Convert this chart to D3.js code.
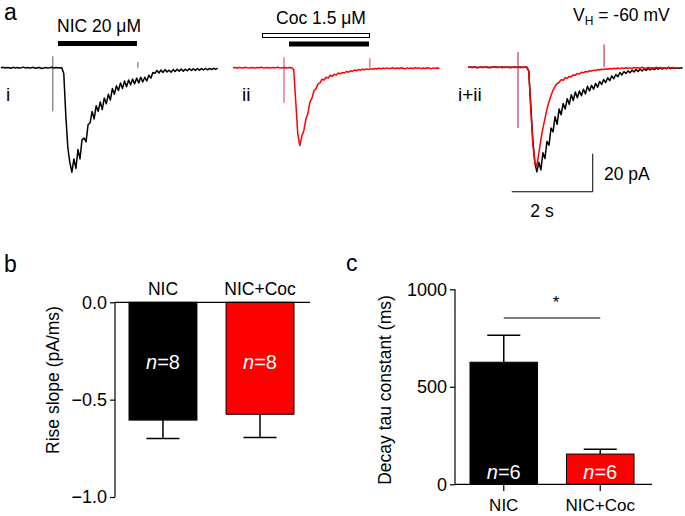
<!DOCTYPE html>
<html><head><meta charset="utf-8">
<script src="https://cdn.jsdelivr.net/npm/d3@7/dist/d3.min.js"></script>
<style>body{margin:0;background:#fff}svg{display:block;font-family:"Liberation Sans",Arial,sans-serif}</style>
</head><body><svg id="c" width="685" height="516"></svg>
<script>
// ---------- DATA ----------
const dt = 0.05; // s between samples
// trace i : NIC alone (pA)
const traceNIC = [0,0.2,-0.2,0.1,0,-0.3,0.2,-0.1,0.1,-0.2,0,0.3,-0.1,0.1,-0.2,0,0.2,-0.3,0,0.1,-0.4,-0.2,0.1,-0.1,0,0.2,-0.2,0.1,0,-0.1,0,
 -3,-25,-42,-50,
 -55,-48,-53,-43,-48,-38,-37,-39,-30,-29,-23,-27,-20,-23,-18,-22,-16,-19,-14,-17,-11,-14,-9.5,-12,-8,-11,-7,-10,-6.5,-9,-6,-8.5,-5.5,-8,-5,-7.5,-5,-7,-4,-5.5,-2.5,
 -3,-1.5,-2.8,-1.2,-2.5,-1,-2.2,-1.3,-2.4,-1,-2,-0.8,-1.8,-0.7,-1.9,-0.8,-1.6,-0.5,-1.5,-0.6,-1.4,-0.4,-1.3,-0.5,-1.2,-0.3,-1.1,-0.4,-1,-0.3,-0.9,-0.2];
// trace ii : NIC + cocaine (pA)
const traceCoc = [0,0.1,-0.2,0.1,0,-0.2,0.2,0,-0.1,0.1,0,-0.2,0.1,0,0.2,-0.1,0,0.1,-0.2,0,0.1,-0.1,0.2,0,-0.1,0.1,0,-0.2,0.1,0,
 -1,-18,-35,-41,-36,-33,-27,-24,-18,-16,-12,-11,-8.5,-8,-6,-6.5,-5,-5.5,-4,-4.5,-3.5,-3.8,-2.8,-3.2,-2.5,-2.8,-2,-2.4,-1.6,-2,
 -1.2,-1.6,-1,-1.3,-0.8,-1.1,-0.6,-1,-0.5,-0.8,-0.4,-0.7,-0.3,-0.6,-0.2,-0.5,-0.1,-0.4,-0.3,0,-0.5,-0.2,-0.4,0,-0.3,-0.6,-0.1,
 -0.4,-0.2,-0.5,0,-0.3,-0.1,-0.5,-0.2,-0.4,0,-0.3,-0.5,-0.1,-0.3,-0.2,-0.4];
// overlay i+ii
const overlayNIC = [0,0.1,-0.1,0.2,0,-0.2,0.1,0,-0.1,0.1,0,-0.2,0.1,0,0.1,-0.1,0,0.2,-0.1,0,0.1,-0.2,0,0.1,-0.1,0,0.1,-0.1,0,0.1,
 -2,-20,-38,-50,-55,
 -50,-54,-45,-48,-39,-41,-32,-34,-26,-30,
 -22,-25,-19,-22,-16.5,-19.5,-14.5,-17.5,-13,-16,
 -12.5,-15,-11.5,-14,-10,-12.5,-9.5,-11.5,-8.5,-10.5,
 -7.5,-9,-6.5,-8,-5.5,-7,-4.5,-6,-3.8,-5,
 -2.8,-4,-2.3,-3.3,-1.9,-2.9,-1.5,-2.5,-1.2,-2.2,
 -1,-1.9,-0.8,-1.6,-0.6,-1.4,-0.5,-1.2,-0.4,-1,
 -0.3,-0.9,-0.2,-0.8,-0.1,-0.7,-0.3,-0.6,-0.2,-0.5,
 -0.4,-0.3];
const overlayCoc = [0,0.2,-0.1,0.1,-0.2,0,0.2,-0.1,0.1,0,-0.2,0.1,0,0.2,-0.1,0,0.1,-0.2,0.1,0,-0.1,0.2,0,-0.1,0.1,0,-0.2,0.1,0,0.1,
 -2,-22,-40,-50,-52,-45,-38,-32,-27,-22,-18,-15,-12,-10,-8.5,-8,-6.5,-6.8,-5.5,-5.8,-4.8,-5,-4,-4.2,-3.2,-3.5,-2.6,-2.9,-2.2,-2.5,
 -1.8,-2,-1.5,-1.7,-1.2,-1.4,-1,-1.2,-0.8,-1,-0.6,-0.9,-0.5,-0.8,-0.4,-0.7,-0.3,-0.6,-0.2,-0.5,-0.3,-0.6,-0.1,-0.4,-0.2,-0.5,0,
 -0.3,-0.5,-0.1,-0.4,-0.2,-0.5,0,-0.3,-0.1,-0.4,-0.2,-0.5,0,-0.3,-0.1,-0.4,-0.2,-0.3];
// stimulus artifacts: [time s, top pA, bottom pA]
const artifactsNIC = [[1.28,6,-23],[3.38,3,0]];
const artifactsCoc = [[1.26,5.5,-18.5],[3.38,5,0]];
const artifactsOverlay = [[1.235,8,-32],[3.36,12,0]];
// scale bar: 2 s, 20 pA
const scaleBarT = 2, scaleBarI = 20;
// bar charts
const groups = ["NIC","NIC+Coc"];
const riseMean = [-0.605,-0.575];
const riseSem  = [0.095,0.12];
const riseN = [8,8];
const riseTicks = [0,-0.5,-1.0];
const decayMean = [626,155];
const decaySem  = [138,25];
const decayN = [6,6];
const decayTicks = [0,500,1000];
const barColors = ["#000000","#ff0000"];

// ---------- DRAW ----------
const svg = d3.select("#c");
const F = "Liberation Sans, Arial, sans-serif";

function txt(x,y,s,size,opt={}){
  return svg.append("text").attr("x",x).attr("y",y).attr("font-size",size)
   .attr("fill",opt.fill||"#000").attr("text-anchor",opt.anchor||"start").text(s);
}
// panel letters
txt(4,20,"a",23); txt(4,272,"b",23); txt(346,271,"c",23);

// trace scales
const pxPerS = 40.5;
function panelScales(x0, base){
  return {
    x: d3.scaleLinear().domain([0,1]).range([x0, x0+pxPerS]),
    y: d3.scaleLinear().domain([0,-20]).range([base, base+38])
  };
}
function drawTrace(sc, data, color, w){
  const line = d3.line().x((d,i)=>sc.x(i*dt)).y(d=>sc.y(d));
  svg.append("path").datum(data).attr("d",line).attr("fill","none")
    .attr("stroke",color).attr("stroke-width",w).attr("stroke-linejoin","round");
}
function drawArtifacts(sc, arts, color){
  svg.selectAll(null).data(arts).enter().append("line")
   .attr("x1",d=>sc.x(d[0])).attr("x2",d=>sc.x(d[0]))
   .attr("y1",d=>sc.y(d[1])).attr("y2",d=>sc.y(d[2]))
   .attr("stroke",color).attr("stroke-width",1);
}
const s1 = panelScales(1,67.7), s2 = panelScales(233,67.7), s3 = panelScales(468,67.3);
drawArtifacts(s1, artifactsNIC, "#555");
drawTrace(s1, traceNIC, "#000", 1.5);
drawArtifacts(s2, artifactsCoc, "#e8305a");
drawTrace(s2, traceCoc, "#ff0000", 1.5);
drawArtifacts(s3, artifactsOverlay, "#b3122e");
drawTrace(s3, overlayNIC, "#000", 1.5);
drawTrace(s3, overlayCoc, "#ff0000", 1.5);

// drug bars
svg.append("rect").attr("x",58).attr("y",41).attr("width",79).attr("height",5).attr("fill","#000");
txt(99,32,"NIC 20 μM",17.5,{anchor:"middle"});
svg.append("rect").attr("x",262.5).attr("y",33.5).attr("width",107).attr("height",4).attr("fill","#fff").attr("stroke","#000").attr("stroke-width",1);
svg.append("rect").attr("x",289).attr("y",41.5).attr("width",80).attr("height",5).attr("fill","#000");
txt(321,24,"Coc 1.5 μM",17.5,{anchor:"middle"});
txt(6,101,"i",19); txt(242,101,"ii",19); txt(458,101,"i+ii",19);
// VH label
const vh = txt(573,21,"V",17.5);
vh.append("tspan").attr("font-size",12).attr("dy",4).text("H");
vh.append("tspan").attr("dy",-4).text(" = -60 mV");
// scale bar (drawn with the overlay panel scales)
const sbT0 = 1.08, sbY = -65.5;
svg.append("path")
  .attr("d",`M${s3.x(sbT0)},${s3.y(sbY)}H${s3.x(sbT0+scaleBarT)}V${s3.y(sbY+scaleBarI)}`)
  .attr("fill","none").attr("stroke","#000").attr("stroke-width",1);
txt(604,180,"20 pA",17.5);
txt(542,217,"2 s",17.5,{anchor:"middle"});

// ---------- bar chart helper ----------
function barChart(o){
  const x = d3.scaleBand().domain(groups).range(o.bandRange).paddingInner(0.3).paddingOuter(0);
  const y = d3.scaleLinear().domain(o.domain).range(o.range);
  groups.forEach((g,i)=>{
    const v = o.mean[i];
    const yTop = Math.min(y(0),y(v)), h = Math.abs(y(v)-y(0));
    const cx = x(g)+x.bandwidth()/2;
    const errEnd = y(v + Math.sign(v)*o.sem[i]);
    svg.append("line").attr("x1",cx).attr("x2",cx).attr("y1",y(v)).attr("y2",errEnd).attr("stroke","#000").attr("stroke-width",1.5);
    svg.append("line").attr("x1",cx-16.5).attr("x2",cx+16.5).attr("y1",errEnd).attr("y2",errEnd).attr("stroke","#000").attr("stroke-width",1.5);
    svg.append("rect").attr("x",x(g)).attr("y",yTop).attr("width",x.bandwidth()).attr("height",h)
      .attr("fill",barColors[i]).attr("stroke","#000").attr("stroke-width",1);
    const nt = txt(cx,o.nY,"",20,{anchor:"middle",fill:"#fff"});
    nt.append("tspan").attr("font-style","italic").text("n");
    nt.append("tspan").text("="+o.n[i]);
  });
  const ax = svg.append("g").attr("transform",`translate(${o.x0},0)`)
    .call(d3.axisLeft(y).tickValues(o.ticks).tickSize(5).tickPadding(3).tickFormat(o.fmt));
  ax.select(".domain").attr("stroke-width",1.2).attr("d",`M0,${o.range[0]}V${o.range[1]}`);
  ax.selectAll(".tick line").attr("stroke-width",1.2);
  ax.selectAll(".tick text").attr("font-size",18).attr("font-family",F).attr("fill","#000");
  svg.append("line").attr("x1",o.x0).attr("x2",o.x1).attr("y1",y(0)).attr("y2",y(0)).attr("stroke","#000").attr("stroke-width",1.2);
  return {x,y};
}

// panel b
const b = barChart({x0:115,x1:310,bandRange:[129,294],domain:[0,-1],range:[302.3,497],mean:riseMean,sem:riseSem,n:riseN,
  ticks:riseTicks,fmt:d3.format(".1f"),nY:369});
groups.forEach(g=>txt(b.x(g)+b.x.bandwidth()/2,295,g,17.5,{anchor:"middle"}));
txt(0,0,"Rise slope (pA/ms)",17.5,{anchor:"middle"}).attr("transform","translate(59,380) rotate(-90)");

// panel c
const c = barChart({x0:455,x1:652,bandRange:[470,634],domain:[0,1000],range:[484.3,289.3],mean:decayMean,sem:decaySem,n:decayN,
  ticks:decayTicks,fmt:d3.format("d"),nY:479});
groups.forEach(g=>{
  const cx=c.x(g)+c.x.bandwidth()/2;
  svg.append("line").attr("x1",cx).attr("x2",cx).attr("y1",484.3).attr("y2",491).attr("stroke","#000").attr("stroke-width",1.2);
  txt(cx,511,g,17,{anchor:"middle"});
});
txt(0,0,"Decay tau constant (ms)",17.5,{anchor:"middle"}).attr("transform","translate(391,390) rotate(-90)");
svg.append("line").attr("x1",c.x("NIC")+c.x.bandwidth()/2).attr("x2",c.x("NIC+Coc")+c.x.bandwidth()/2)
  .attr("y1",318).attr("y2",318).attr("stroke","#000").attr("stroke-width",1);
txt(556,308,"*",17,{anchor:"middle"});
</script></body></html>
